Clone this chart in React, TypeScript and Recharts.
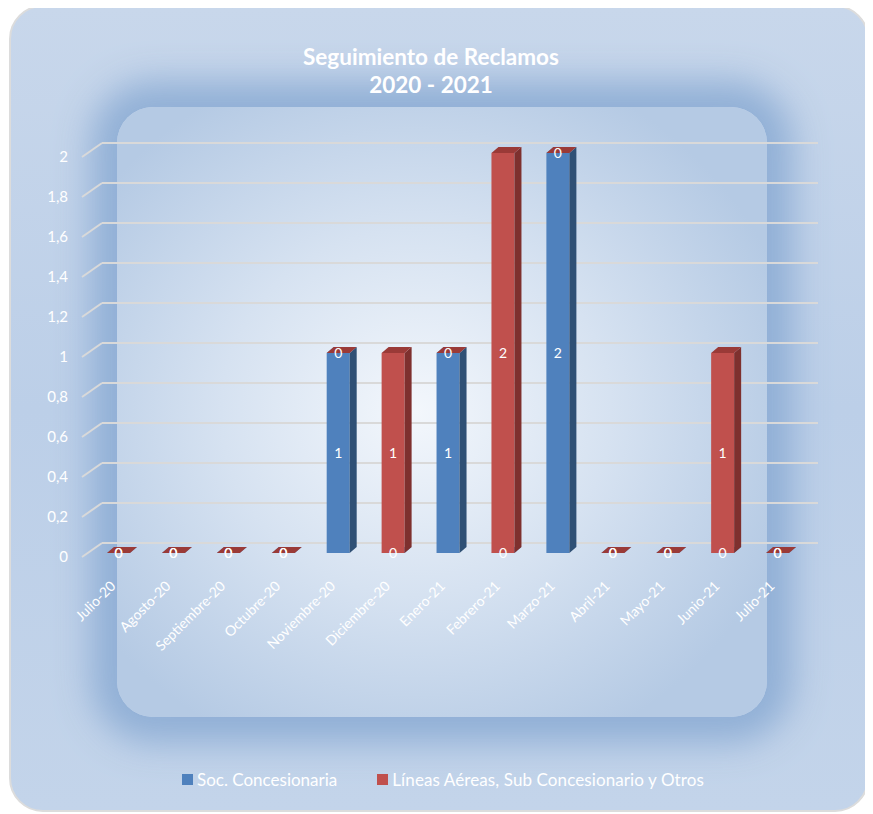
import { BarChart, Bar, XAxis, YAxis, CartesianGrid, LabelList } from 'recharts'

const MONTHS = [
  'Julio-20', 'Agosto-20', 'Septiembre-20', 'Octubre-20', 'Noviembre-20', 'Diciembre-20',
  'Enero-21', 'Febrero-21', 'Marzo-21', 'Abril-21', 'Mayo-21', 'Junio-21', 'Julio-21',
]
const SOC_CONCESIONARIA = [0, 0, 0, 0, 1, 0, 1, 0, 2, 0, 0, 0, 0]
const LINEAS_AEREAS = [0, 0, 0, 0, 0, 1, 0, 2, 0, 0, 0, 1, 0]
const Y_TICKS = [0, 0.2, 0.4, 0.6, 0.8, 1, 1.2, 1.4, 1.6, 1.8, 2]

const SERIES_NAMES = ['Soc. Concesionaria', 'Líneas Aéreas, Sub Concesionario y Otros']

const data = MONTHS.map((m, i) => ({ month: m, soc: SOC_CONCESIONARIA[i], lineas: LINEAS_AEREAS[i] }))

const FONT = 'Lato, "Open Sans", sans-serif'

// depth of the fake 3D bars
const DX = 7
const DY = 6

function make3DBar(front: string, side: string, top: string) {
  return (props: any) => {
    const { x, y, width, height } = props
    return (
      <g>
        {height > 0 && <rect x={x} y={y} width={width} height={height} fill={front} />}
        {height > 0 && (
          <polygon
            points={`${x + width},${y} ${x + width + DX},${y - DY} ${x + width + DX},${y + height - DY} ${x + width},${y + height}`}
            fill={side}
          />
        )}
        <polygon
          points={`${x},${y} ${x + DX},${y - DY} ${x + width + DX},${y - DY} ${x + width},${y}`}
          fill={top}
        />
      </g>
    )
  }
}

const blueBar = make3DBar('#4f81bd', '#2f5075', '#6a94c9')
const redBar = make3DBar('#c0504d', '#7e302e', '#9a3a37')

function renderLabel(props: any) {
  const { x, y, width, height, value } = props
  return (
    <text
      x={x + width / 2}
      y={y + height / 2}
      dy={5}
      textAnchor="middle"
      fill="#ffffff"
      fontSize={14}
      fontFamily={FONT}
    >
      {value}
    </text>
  )
}

function gridLine(p: any) {
  const { x1, x2, y1 } = p
  return (
    <g key={`grid-${y1}`}>
      <line x1={x1 - 9} y1={y1 + 4} x2={x1 + 11} y2={y1 - 10} stroke="#d9d9d9" strokeWidth={2} />
      <line x1={x1 + 11} y1={y1 - 10} x2={x2 + 13} y2={y1 - 10} stroke="#d9d9d9" strokeWidth={2} />
    </g>
  )
}

const fmt = (v: number) => String(v).replace('.', ',')

function YTick(props: any) {
  const { y, payload } = props
  return (
    <text x={68} y={y + 4} dy={5} textAnchor="end" fill="#ffffff" fontSize={15} fontFamily={FONT}>
      {fmt(payload.value)}
    </text>
  )
}

function XTick(props: any) {
  const { x, y, payload } = props
  return (
    <text
      x={x}
      y={y}
      textAnchor="end"
      fill="#ffffff"
      fontSize={14}
      fontFamily={FONT}
      transform={`translate(-2, 26) rotate(-45 ${x} ${y})`}
    >
      {payload.value}
    </text>
  )
}

export default function App() {
  return (
    <div style={{ position: 'relative', width: 860, height: 807, marginLeft: 1, marginTop: -3 }}>
      <div
        style={{
          position: 'absolute',
          inset: 0,
          borderRadius: 34,
          border: '2px solid #dcdcdc',
          boxSizing: 'border-box',
          background: 'linear-gradient(180deg, #c8d7eb 0%, #bccfe8 50%, #c3d4ea 100%)',
          overflow: 'hidden',
        }}
      >
        <div
          style={{
            position: 'absolute',
            left: 106,
            top: 100,
            width: 650,
            height: 610,
            borderRadius: 36,
            boxShadow: '0 0 34px 26px rgba(140,172,212,0.9)',
            background: 'radial-gradient(ellipse 60% 60% at 46% 50%, #f3f7fc 0%, #d6e2f1 50%, #b5cae4 100%)',
          }}
        />
      </div>
      <div
        style={{
          position: 'absolute',
          left: 0,
          top: 38,
          width: 860,
          textAlign: 'center',
          color: '#ffffff',
          fontFamily: FONT,
          fontWeight: 700,
          fontSize: 22.5,
          lineHeight: '28px',
          marginLeft: -8,
        }}
      >
        <div>Seguimiento de Reclamos</div>
        <div>2020 - 2021</div>
      </div>
      <div style={{ position: 'absolute', left: -9, top: -5 }}>
        <BarChart
          width={873}
          height={814}
          data={data}
          margin={{ top: 153, right: 68, bottom: 201, left: 0 }}
          barSize={23}
        >
          <CartesianGrid vertical={false} horizontal={gridLine} />
          <YAxis
            width={91}
            domain={[0, 2]}
            ticks={Y_TICKS}
            tickFormatter={fmt}
            axisLine={false}
            tickLine={false}
            tick={<YTick />}
            interval={0}
          />
          <XAxis
            dataKey="month"
            height={60}
            axisLine={false}
            tickLine={false}
            tick={<XTick />}
            interval={0}
          />
          <Bar dataKey="soc" stackId="a" shape={blueBar} isAnimationActive={false}>
            <LabelList dataKey="soc" content={renderLabel} />
          </Bar>
          <Bar dataKey="lineas" stackId="a" shape={redBar} isAnimationActive={false}>
            <LabelList dataKey="lineas" content={renderLabel} />
          </Bar>
        </BarChart>
      </div>
      <div
        style={{
          position: 'absolute',
          top: 764,
          left: 173,
          display: 'flex',
          alignItems: 'center',
          color: '#ffffff',
          fontFamily: FONT,
          fontSize: 17,
        }}
      >
        <span style={{ width: 11, height: 11, background: '#4f81bd', display: 'inline-block', marginRight: 4 }} />
        <span style={{ marginRight: 40 }}>{SERIES_NAMES[0]}</span>
        <span style={{ width: 11, height: 11, background: '#c0504d', display: 'inline-block', marginRight: 4 }} />
        <span style={{ letterSpacing: 0.1 }}>{SERIES_NAMES[1]}</span>
      </div>
    </div>
  )
}
